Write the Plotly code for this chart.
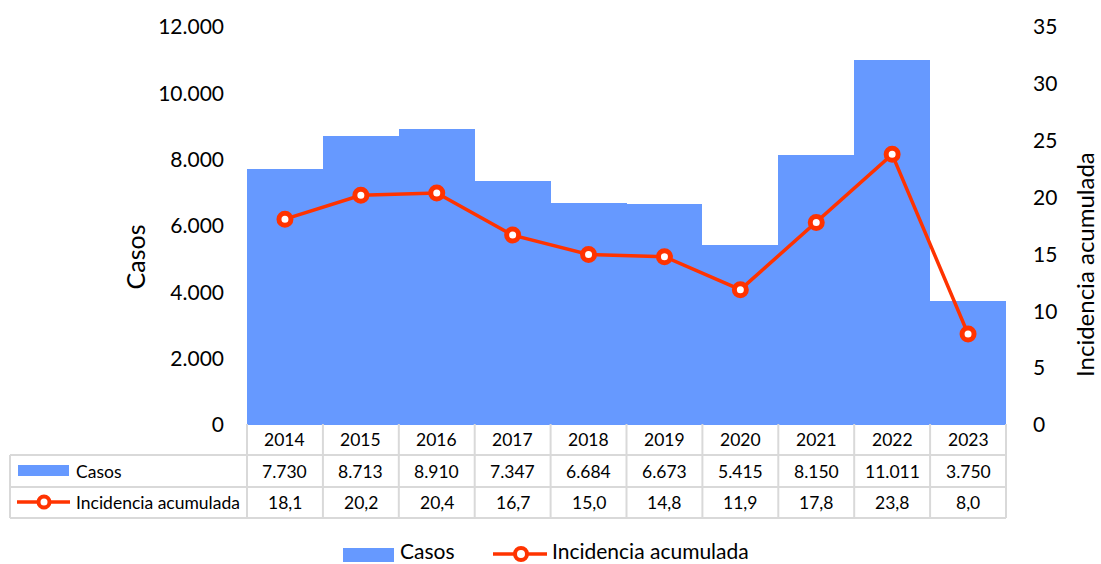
import plotly.graph_objects as go

# ---- data ----
years = ["2014", "2015", "2016", "2017", "2018", "2019", "2020", "2021", "2022", "2023"]
casos = [7730, 8713, 8910, 7347, 6684, 6673, 5415, 8150, 11011, 3750]
incidencia = [18.1, 20.2, 20.4, 16.7, 15.0, 14.8, 11.9, 17.8, 23.8, 8.0]
casos_ticks = [0, 2000, 4000, 6000, 8000, 10000, 12000]
inc_ticks = [0, 5, 10, 15, 20, 25, 30, 35]

# ---- style ----
BAR = "#6699FF"
RED = "#FF3300"
GRID = "#D9D9D9"
FONT = "Lato"
W, H = 1101, 564
L, R, T, B = 247, 95, 27, 139
PW, PH = W - L - R, H - T - B


def px(xp):
    return (xp - L) / PW


def py(yp):
    return (H - B - yp) / PH


def fmt_int(v):
    return f"{v:,}".replace(",", ".")


def fmt_dec(v):
    return f"{v:.1f}".replace(".", ",")


fig = go.Figure()
fig.add_trace(go.Bar(x=years, y=casos, name="Casos", marker=dict(color=BAR, line=dict(width=0)),
                     showlegend=False))
fig.add_trace(go.Scatter(x=years, y=incidencia, name="Incidencia acumulada", yaxis="y2",
                         mode="lines+markers", line=dict(color=RED, width=3.5),
                         marker=dict(symbol="circle", size=12, color="white",
                                     line=dict(color=RED, width=5)),
                         showlegend=False))

shapes = []
annotations = []

# table geometry (pixel rows)
row_top, row1, row2, row3 = 424, 455, 487, 518
left_edge = 10
TF = 17.5

# horizontal lines
shapes.append(dict(type="line", xref="paper", yref="paper", x0=0, x1=1, y0=py(row_top), y1=py(row_top),
                   line=dict(color=GRID, width=2), layer="below"))
for yy in (row1, row2, row3):
    shapes.append(dict(type="line", xref="paper", yref="paper", x0=px(left_edge), x1=1,
                       y0=py(yy), y1=py(yy), line=dict(color=GRID, width=2)))
# vertical lines at category boundaries
n = len(years)
for k in range(n + 1):
    shapes.append(dict(type="line", xref="paper", yref="paper", x0=k / n, x1=k / n,
                       y0=py(row_top), y1=py(row3), line=dict(color=GRID, width=2)))
# left column outer edge
shapes.append(dict(type="line", xref="paper", yref="paper", x0=px(left_edge), x1=px(left_edge),
                   y0=py(row1), y1=py(row3), line=dict(color=GRID, width=2)))

# table cells (x positions are category indices on the x axis)
c_head = py((row_top + row1) / 2)
c_casos = py((row1 + row2) / 2)
c_inc = py((row2 + row3) / 2)


def cell(i, yc, txt):
    return dict(x=i, xref="x", y=yc, yref="paper", text=txt, showarrow=False,
                xanchor="center", yanchor="middle", font=dict(size=TF, color="black", family=FONT))


for i, yr in enumerate(years):
    annotations.append(cell(i, c_head, yr))
    annotations.append(cell(i, c_casos, fmt_int(casos[i])))
    annotations.append(cell(i, c_inc, fmt_dec(incidencia[i])))

# table row keys
shapes.append(dict(type="rect", xref="paper", yref="paper", x0=px(18), x1=px(69), y0=py(465), y1=py(476),
                   fillcolor=BAR, line=dict(width=0)))
annotations.append(dict(x=px(74), y=c_casos, xref="paper", yref="paper", text="Casos", showarrow=False,
                        xanchor="left", yanchor="middle", font=dict(size=TF, color="black", family=FONT)))
shapes.append(dict(type="line", xref="paper", yref="paper", x0=px(17), x1=px(70), y0=py(502), y1=py(502),
                   line=dict(color=RED, width=3.5)))
shapes.append(dict(type="circle", xref="paper", yref="paper", x0=px(38.5), x1=px(49.5), y0=py(496.5),
                   y1=py(507.5), fillcolor="white", line=dict(color=RED, width=4)))
annotations.append(dict(x=px(74), y=c_inc, xref="paper", yref="paper", text="Incidencia acumulada",
                        showarrow=False, xanchor="left", yanchor="middle",
                        font=dict(size=TF, color="black", family=FONT)))

# bottom legend
shapes.append(dict(type="rect", xref="paper", yref="paper", x0=px(343), x1=px(394), y0=py(548), y1=py(562),
                   fillcolor=BAR, line=dict(width=0)))
annotations.append(dict(x=px(398), y=py(550.5), xref="paper", yref="paper", text="Casos", showarrow=False,
                        xanchor="left", yanchor="middle", font=dict(size=21, color="black", family=FONT)))
shapes.append(dict(type="line", xref="paper", yref="paper", x0=px(493), x1=px(547), y0=py(554), y1=py(554),
                   line=dict(color=RED, width=3.5)))
shapes.append(dict(type="circle", xref="paper", yref="paper", x0=px(515), x1=px(527), y0=py(548),
                   y1=py(560), fillcolor="white", line=dict(color=RED, width=4)))
annotations.append(dict(x=px(550), y=py(550.5), xref="paper", yref="paper", text="Incidencia acumulada",
                        showarrow=False, xanchor="left", yanchor="middle",
                        font=dict(size=21, color="black", family=FONT)))

# axis titles (placed as in the reference, centred lower than the plot area)
annotations.append(dict(x=px(134), y=py(257.5), xref="paper", yref="paper", text="Casos", textangle=-90,
                        showarrow=False, xanchor="center", yanchor="middle",
                        font=dict(size=25, color="black", family=FONT)))
annotations.append(dict(x=px(1084), y=py(265), xref="paper", yref="paper", text="Incidencia acumulada",
                        textangle=-90, showarrow=False, xanchor="center", yanchor="middle",
                        font=dict(size=24, color="black", family=FONT)))

fig.update_layout(
    width=W, height=H,
    margin=dict(l=L, r=R, t=T, b=B, autoexpand=False),
    paper_bgcolor="white", plot_bgcolor="white",
    separators=",.",
    bargap=0,
    font=dict(family=FONT, color="black"),
    xaxis=dict(type="category", showticklabels=False, showgrid=False, zeroline=False, showline=False,
               range=[-0.5, n - 0.5], fixedrange=True),
    yaxis=dict(range=[0, 12000], tickvals=casos_ticks, tickformat=",d", showgrid=False, zeroline=False,
               showline=False, ticklabelstandoff=22, tickfont=dict(size=21, family=FONT)),
    yaxis2=dict(range=[0, 35], tickvals=inc_ticks, overlaying="y", side="right", showgrid=False,
                zeroline=False, showline=False, ticklabelstandoff=26, tickfont=dict(size=21, family=FONT)),
    shapes=shapes,
    annotations=annotations,
    showlegend=False,
)

fig.write_html("out.html", config={"displayModeBar": False},
               post_script="document.body.style.margin='0';document.body.style.overflow='hidden';")
